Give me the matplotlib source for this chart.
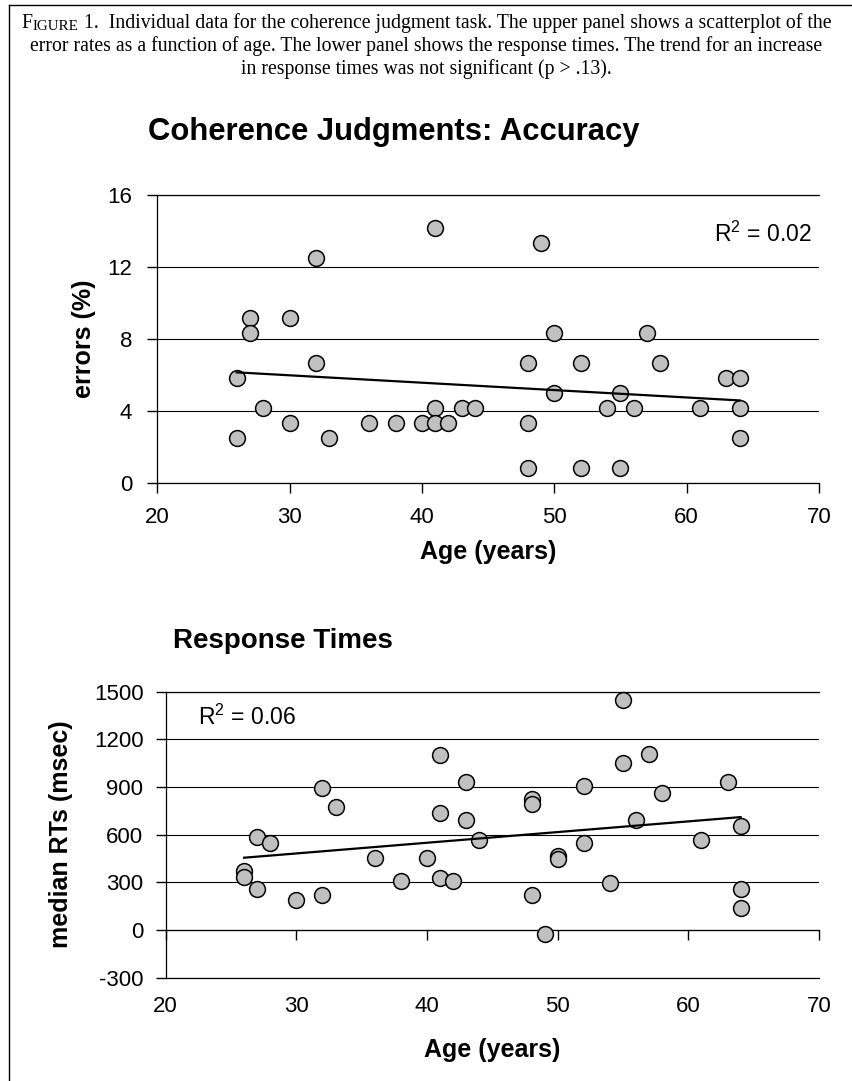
import numpy as np
import matplotlib
matplotlib.use("Agg")
import matplotlib.pyplot as plt
from matplotlib.lines import Line2D

plt.rcParams["font.family"] = ["Liberation Sans", "DejaVu Sans"]
plt.rcParams["mathtext.fontset"] = "custom"
plt.rcParams["mathtext.rm"] = "Liberation Sans"
plt.rcParams["axes.unicode_minus"] = False

# upper panel: error rate (%) per participant
ACC_AGE = [26, 26, 27, 27, 28, 30, 30, 32, 32, 33, 36, 38, 40, 41, 41, 41, 42, 43, 44,
           48, 48, 48, 49, 50, 50, 52, 52, 54, 55, 55, 56, 57, 58, 61, 63, 64, 64, 64]
ACC_ERR = [5.83, 2.5, 9.17, 8.33, 4.17, 9.17, 3.33, 12.5, 6.67, 2.5, 3.33, 3.33, 3.33,
           14.17, 4.17, 3.33, 3.33, 4.17, 4.17, 6.67, 3.33, 0.83, 13.33, 8.33, 5.0,
           6.67, 0.83, 4.17, 5.0, 0.83, 4.17, 8.33, 6.67, 4.17, 5.83, 5.83, 4.17, 2.5]
ACC_R2 = "0.02"

# lower panel: median response times (msec) per participant
RT_AGE = [26, 26, 27, 27, 28, 30, 32, 32, 33, 36, 38, 40, 41, 41, 41, 42, 43, 43, 44,
          48, 48, 48, 49, 50, 50, 52, 52, 54, 55, 55, 56, 57, 58, 61, 63, 64, 64, 64]
RT_MS = [370, 335, 587, 256, 545, 189, 891, 218, 774, 455, 308, 455, 1099, 734, 325,
         308, 931, 692, 564, 822, 791, 218, -27, 467, 446, 908, 545, 298, 1445, 1050,
         692, 1107, 860, 564, 931, 654, 260, 138]
RT_R2 = "0.06"

AGE_TICKS = [20, 30, 40, 50, 60, 70]
ACC_YTICKS = [0, 4, 8, 12, 16]
RT_YTICKS = [-300, 0, 300, 600, 900, 1200, 1500]

W, H = 853, 1081
GREY = "#c0c0c0"
TICK_FS = 16
LABEL_FS = 18


def scatter_panel(ax, x, y):
    ax.scatter(x, y, s=130, c=GREY, edgecolors="black", linewidths=1.1, zorder=3, clip_on=False)
    k, b = np.polyfit(x, y, 1)
    xs = np.array([min(x), max(x)])
    ax.plot(xs, k * xs + b, color="black", lw=1.6, zorder=4)
    ax.yaxis.grid(True, color="black", lw=0.8)
    ax.set_axisbelow(True)
    ax.spines["right"].set_visible(False)
    for s in ["left", "top", "bottom"]:
        ax.spines[s].set_linewidth(0.9)
    ax.tick_params(axis="both", direction="out", length=7, width=1, labelsize=TICK_FS)
    ax.set_xlim(20, 70)
    ax.set_xticks(AGE_TICKS)


fig = plt.figure(figsize=(W / 100, H / 100), dpi=100)

# ---- upper panel ----
ax1 = fig.add_axes([157.3 / W, 1 - 483 / H, (819 - 157.3) / W, 288 / H])
scatter_panel(ax1, ACC_AGE, ACC_ERR)
ax1.set_ylim(0, 16)
ax1.set_yticks(ACC_YTICKS)
ax1.tick_params(axis="y", pad=11)
ax1.tick_params(axis="x", pad=10)
ax1.text(0.989, 0.865, "R$^2$ = " + ACC_R2, transform=ax1.transAxes, ha="right", va="center",
         fontsize=16.5)

# ---- lower panel ----
ax2 = fig.add_axes([165.7 / W, 1 - 977.7 / H, (819 - 165.7) / W, 286 / H])
scatter_panel(ax2, RT_AGE, RT_MS)
ax2.set_ylim(-300, 1500)
ax2.set_yticks(RT_YTICKS)
ax2.tick_params(axis="y", pad=9)
ax2.tick_params(axis="x", length=0, pad=13)
# x axis line crosses at y = 0, labels stay at the bottom
sec = ax2.secondary_xaxis((0 + 300) / 1800)
sec.set_xticks(AGE_TICKS)
sec.tick_params(axis="x", direction="out", length=7, width=1, labelbottom=False)
sec.spines["bottom"].set_linewidth(0.9)
ax2.text(0.05, 0.91, "R$^2$ = " + RT_R2, transform=ax2.transAxes, ha="left", va="center",
         fontsize=16.5)

# titles and axis labels
fig.text(148 / W, 1 - 132 / H, "Coherence Judgments: Accuracy", fontsize=22.3, fontweight="bold",
         ha="left", va="center")
fig.text(173 / W, 1 - 641 / H, "Response Times", fontsize=20, fontweight="bold",
         ha="left", va="center")
fig.text(84 / W, 1 - 339 / H, "errors (%)", fontsize=LABEL_FS, fontweight="bold", rotation=90,
         ha="center", va="center")
fig.text(61 / W, 1 - 834 / H, "median RTs (msec)", fontsize=LABEL_FS, fontweight="bold", rotation=90,
         ha="center", va="center")
fig.text(488 / W, 1 - 552 / H, "Age (years)", fontsize=LABEL_FS, fontweight="bold",
         ha="center", va="center")
fig.text(492 / W, 1 - 1050 / H, "Age (years)", fontsize=LABEL_FS, fontweight="bold",
         ha="center", va="center")

# caption (small caps "FIGURE")
serif = ["Liberation Serif", "DejaVu Serif"]
CAP_FS = 14.2
t1 = fig.text(22 / W, 1 - 28 / H, "F", fontsize=CAP_FS, family=serif, ha="left", va="baseline")
a2 = fig.add_artist(plt.Annotation("IGURE", xy=(1, 0), xycoords=t1, fontsize=CAP_FS * 0.76,
                                   family=serif, va="bottom", ha="left"))
a3 = fig.add_artist(plt.Annotation(" 1.  Individual data for the coherence judgment task. The upper "
                                   "panel shows a scatterplot of the", xy=(1, 0), xycoords=a2,
                                   fontsize=CAP_FS, family=serif, va="bottom", ha="left"))
fig.canvas.draw()
x_left = t1.get_window_extent().x0
x_right = a3.get_window_extent().x1
t1.set_x((W - (x_right - x_left)) / 2 / W)
fig.text(0.5, 1 - 46 / H, "error rates as a function of age. The lower panel shows the response "
         "times. The trend for an increase", fontsize=CAP_FS, family=serif, ha="center", va="center")
fig.text(0.5, 1 - 69 / H, "in response times was not significant (p > .13).", fontsize=CAP_FS,
         family=serif, ha="center", va="center")

# frame around the figure
fig.add_artist(Line2D([9 / W, 9 / W], [0, 1 - 5 / H], transform=fig.transFigure, color="black", lw=1))
fig.add_artist(Line2D([9 / W, 1], [1 - 5 / H, 1 - 5 / H], transform=fig.transFigure, color="black", lw=1))

fig.savefig("out.png", dpi=100)
